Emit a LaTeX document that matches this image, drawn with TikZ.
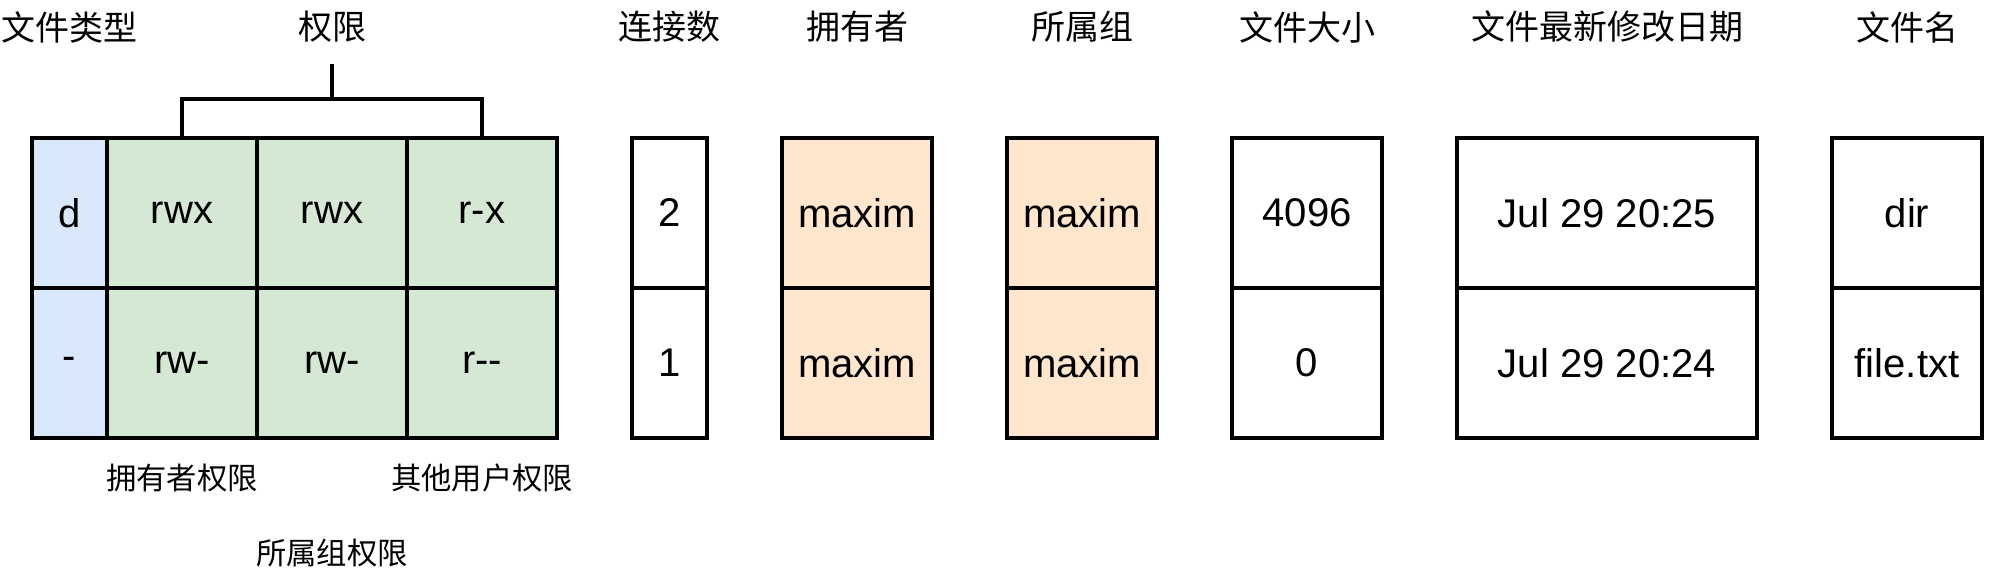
\documentclass[tikz,border=0pt]{standalone}
\usepackage{fontspec}
\setmainfont{Liberation Sans}
\newfontfamily\cjk{Noto Sans CJK SC}
\usepackage{tikz}
\definecolor{typeblue}{HTML}{DAE8FC}
\definecolor{permgreen}{HTML}{D5E8D4}
\definecolor{userorange}{HTML}{FFE6CC}

\begin{document}
\begin{tikzpicture}[cell/.style = {draw, very thick, minimum height=2cm, inner sep=0pt, font=\fontsize{15.2}{18}\selectfont},
  head/.style = {inner sep=0pt, font=\cjk\fontsize{12.9}{15}\selectfont},
  note/.style = {inner sep=0pt, font=\cjk\fontsize{11.5}{14}\selectfont}]
\useasboundingbox (-0.4267,-1.88) rectangle (26.213,5.84);
% file type and permissions
\node[cell, fill=typeblue, minimum width=1cm](t1) at (0.5,3) {d}; \node[cell, fill=typeblue, minimum width=1cm](t2) at (0.5,1) {-};
\node[cell, fill=permgreen, minimum width=2cm](p1) at (2,3) {rwx}; \node[cell, fill=permgreen, minimum width=2cm](p2) at (4,3) {rwx}; \node[cell, fill=permgreen, minimum width=2cm](p3) at (6,3) {r-x};
\node[cell, fill=permgreen, minimum width=2cm](p4) at (2,1) {rw-}; \node[cell, fill=permgreen, minimum width=2cm](p5) at (4,1) {rw-}; \node[cell, fill=permgreen, minimum width=2cm](p6) at (6,1) {r-{}-};
% other columns
\node[cell, minimum width=1cm](n1) at (8.5,3) {2}; \node[cell, minimum width=1cm](n2) at (8.5,1) {1};
\node[cell, fill=userorange, minimum width=2cm](o1) at (11,3) {maxim}; \node[cell, fill=userorange, minimum width=2cm](o2) at (11,1) {maxim};
\node[cell, fill=userorange, minimum width=2cm](g1) at (14,3) {maxim}; \node[cell, fill=userorange, minimum width=2cm](g2) at (14,1) {maxim};
\node[cell, minimum width=2cm](s1) at (17,3) {4096}; \node[cell, minimum width=2cm](s2) at (17,1) {0};
\node[cell, minimum width=4cm](d1) at (21,3) {Jul 29 20:25}; \node[cell, minimum width=4cm](d2) at (21,1) {Jul 29 20:24};
\node[cell, minimum width=2cm](f1) at (25,3) {dir}; \node[cell, minimum width=2cm](f2) at (25,1) {file.txt};
% headings
\node[head](h1) at (0.5,5.48) {文件类型}; \node[head](h2) at (4,5.48) {权限}; \node[head](h3) at (8.5,5.48) {连接数}; \node[head](h4) at (11,5.48) {拥有者};
\node[head](h5) at (14,5.48) {所属组}; \node[head](h6) at (17,5.48) {文件大小}; \node[head](h7) at (21,5.48) {文件最新修改日期}; \node[head](h8) at (25,5.48) {文件名};
\node[note](l1) at (2,-0.53) {拥有者权限}; \node[note](l2) at (6,-0.53) {其他用户权限}; \node[note](l3) at (4,-1.53) {所属组权限};
% bracket
\coordinate (join) at (4,4.52); \coordinate (tick) at (4,4.99);
\draw [very thick] (p1.north) |- (join) -| (p3.north); \draw [very thick] (join) -- (tick);
\end{tikzpicture}
\end{document}
